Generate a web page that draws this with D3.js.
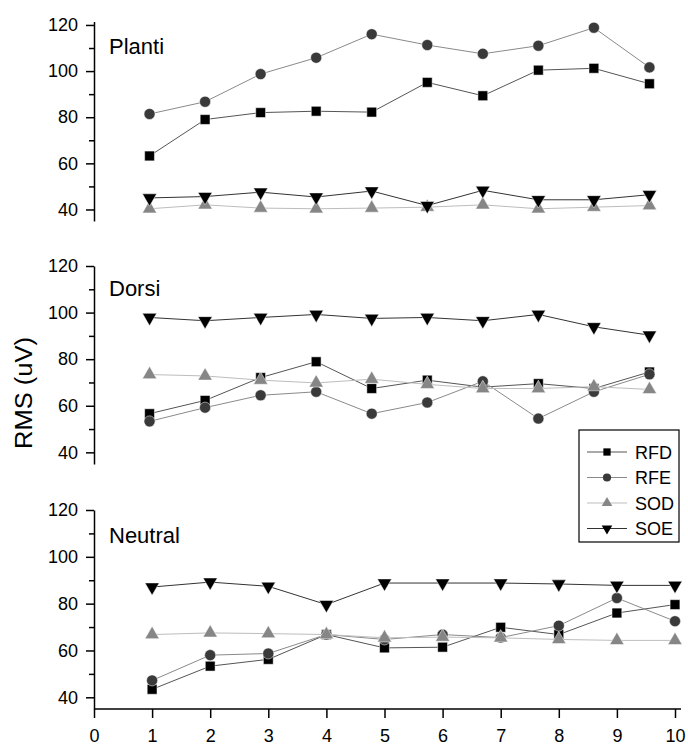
<!DOCTYPE html>
<html>
<head>
<meta charset="utf-8">
<script src="https://cdn.jsdelivr.net/npm/d3@7"></script>
<style>
  body { margin: 0; background: #fff; }
  svg { display: block; font-family: "Liberation Sans", Arial, sans-serif; }
</style>
</head>
<body>
<div id="grafico"></div>
<script>
// valores
const categorias = [1, 2, 3, 4, 5, 6, 7, 8, 9, 10];
const xTicks = [0, 1, 2, 3, 4, 5, 6, 7, 8, 9, 10];
const yTicks = [40, 60, 80, 100, 120];
const yMinor = [50, 70, 90, 110];
const series = ['RFD', 'RFE', 'SOD', 'SOE'];
const paineis = ['Planti', 'Dorsi', 'Neutral'];

const plantiRFD = [63.2, 79, 82, 82.6, 82.2, 95.1, 89.3, 100.4, 101.2, 94.5];
const plantiRFE = [81.4, 86.7, 98.7, 105.8, 116, 111.3, 107.5, 111, 118.8, 101.6];
const plantiSOD = [40.3, 42, 40.6, 40.3, 40.6, 41, 42, 40.3, 41, 41.7];
const plantiSOE = [45, 45.6, 47.5, 45.4, 48, 41.7, 48.3, 44.2, 44.2, 46.4];

const dorsiRFD = [56.6, 62.3, 72.1, 78.9, 67.4, 71, 68, 69.5, 67.4, 74.5];
const dorsiRFE = [53.3, 59.2, 64.5, 66, 56.6, 61.4, 70.5, 54.5, 66, 73.5];
const dorsiSOD = [73.4, 72.8, 71, 69.8, 71.4, 69.2, 67.4, 67.4, 68.2, 67];
const dorsiSOE = [97.9, 96.5, 97.9, 99.2, 97.5, 97.9, 96.5, 99.2, 93.9, 90.3];

const neutralRFD = [43.4, 53.3, 56.2, 66.8, 61.1, 61.4, 69.9, 66.8, 76, 79.6];
const neutralRFE = [47.2, 58, 58.7, 66.8, 64.7, 66.8, 65.5, 70.6, 82.4, 72.5];
const neutralSOD = [66.8, 67.5, 67.2, 66.8, 65.4, 65.7, 65.4, 64.7, 64.3, 64.3];
const neutralSOE = [87.1, 89.2, 87.4, 79.6, 88.8, 88.8, 88.8, 88.4, 87.8, 87.8];

const dados = {
  Planti: [plantiRFD, plantiRFE, plantiSOD, plantiSOE],
  Dorsi: [dorsiRFD, dorsiRFE, dorsiSOD, dorsiSOE],
  Neutral: [neutralRFD, neutralRFE, neutralSOD, neutralSOE]
};

const largura = 688, altura = 747;
const eixoX0 = 94, eixoX1 = 675;

// estilo de cada série: marcador, cor do marcador, cor da linha
const estilos = {
  RFD: { simbolo: d3.symbolSquare, tam: 96, rot: 0, cor: '#000', linha: '#555' },
  RFE: { simbolo: d3.symbolCircle, tam: 96, rot: 0, cor: '#3a3a3a', linha: '#8a8a8a' },
  SOD: { simbolo: d3.symbolTriangle, tam: 88, rot: 0, cor: '#868686', linha: '#bdbdbd' },
  SOE: { simbolo: d3.symbolTriangle, tam: 88, rot: 180, cor: '#000', linha: '#333' }
};

// posição vertical de cada painel
const layout = {
  Planti: { dom: [35, 121.5], range: [221, 21.5], titulo: 54, xdom: [0, 10.46] },
  Dorsi: { dom: [35, 120], range: [464, 266], titulo: 296, xdom: [0, 10.46] },
  Neutral: { dom: [35, 120], range: [709, 510], titulo: 543, xdom: [0, 10] }
};

const svg = d3.select('#grafico').append('svg')
  .attr('width', largura)
  .attr('height', altura);

paineis.forEach(nome => {
  const L = layout[nome];
  const y = d3.scaleLinear().domain(L.dom).range(L.range);
  const x = d3.scaleLinear().domain(L.xdom).range([eixoX0, eixoX1]);
  const g = svg.append('g');

  // eixo Y
  const ay = g.append('g')
    .attr('transform', `translate(${eixoX0},0)`)
    .call(d3.axisLeft(y).tickValues(yTicks).tickSize(8).tickPadding(8).tickSizeOuter(0));
  ay.select('.domain').attr('stroke', '#000').attr('stroke-width', 1.5);
  ay.selectAll('.tick line').attr('stroke-width', 1.5);
  ay.selectAll('text').style('font-size', '18px').attr('fill', '#000');
  g.append('g')
    .attr('transform', `translate(${eixoX0},0)`)
    .call(d3.axisLeft(y).tickValues(yMinor).tickSize(5).tickFormat(''))
    .call(s => s.select('.domain').remove())
    .selectAll('.tick line').attr('stroke-width', 1.5);

  // título do painel
  g.append('text')
    .attr('x', 109)
    .attr('y', L.titulo)
    .style('font-size', '22px')
    .text(nome);

  // linhas e marcadores
  series.forEach((s, i) => {
    const est = estilos[s];
    const valores = dados[nome][i];
    const pontos = categorias.map((c, j) => [c, valores[j]]);
    g.append('path')
      .datum(pontos)
      .attr('fill', 'none')
      .attr('stroke', est.linha)
      .attr('stroke-width', 1)
      .attr('d', d3.line().x(d => x(d[0])).y(d => y(d[1])));
    g.selectAll(null)
      .data(pontos)
      .enter()
      .append('path')
      .attr('d', d3.symbol().type(est.simbolo).size(est.tam))
      .attr('transform', d => `translate(${x(d[0])},${y(d[1])}) rotate(${est.rot})`)
      .attr('fill', est.cor)
      .attr('stroke', '#fff')
      .attr('stroke-width', 0.5);
  });

  // eixo X só no painel de baixo
  if (nome === 'Neutral') {
    const ax = g.append('g')
      .attr('transform', `translate(0,${L.range[0]})`)
      .call(d3.axisBottom(x).tickValues(xTicks).tickSize(9).tickPadding(11).tickSizeOuter(0));
    ax.select('.domain').attr('stroke-width', 1.5).attr('d', `M${eixoX0},0H${eixoX1 + 6}`);
    ax.selectAll('.tick line').attr('stroke-width', 1.5);
    ax.selectAll('text').style('font-size', '18px').attr('fill', '#000');
  }
});

// rótulo do eixo Y
svg.append('text')
  .attr('transform', 'translate(32,393) rotate(-90)')
  .attr('text-anchor', 'middle')
  .attr('textLength', 112)
  .attr('lengthAdjust', 'spacingAndGlyphs')
  .style('font-size', '23px')
  .text('RMS (uV)');

// legenda
const leg = svg.append('g').attr('transform', 'translate(579,430)');
leg.append('rect')
  .attr('width', 100)
  .attr('height', 112)
  .attr('fill', '#fff')
  .attr('stroke', '#000')
  .attr('stroke-width', 1.2);
series.forEach((s, i) => {
  const est = estilos[s];
  const yy = 22 + i * 25.5;
  leg.append('line')
    .attr('x1', 8).attr('x2', 48)
    .attr('y1', yy).attr('y2', yy)
    .attr('stroke', est.linha);
  leg.append('path')
    .attr('d', d3.symbol().type(est.simbolo).size(est.tam * 0.55))
    .attr('transform', `translate(28,${yy}) rotate(${est.rot})`)
    .attr('fill', est.cor);
  leg.append('text')
    .attr('x', 56)
    .attr('y', yy + 6.5)
    .style('font-size', '18px')
    .text(s);
});
</script>
</body>
</html>
